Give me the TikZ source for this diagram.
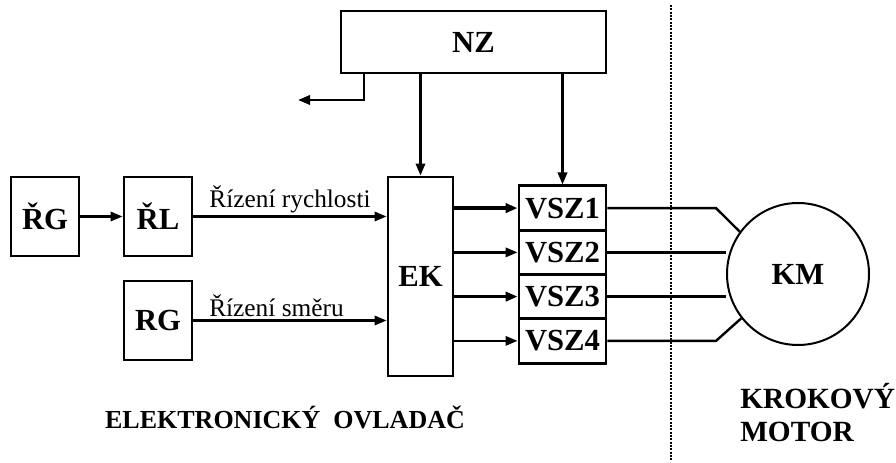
\documentclass[tikz,border=0pt]{standalone}
\usepackage{fontspec}
\setmainfont{Liberation Serif}
\usetikzlibrary{arrows.meta}

\begin{document}
\begin{tikzpicture}[x=0.75pt,y=-0.75pt,>={Triangle[length=9pt,width=7pt]},
  blok/.style={draw,line width=2.2pt,inner sep=0pt,font=\fontsize{23}{27}\selectfont\bfseries},
  spoj/.style={line width=1.8pt},
  silny/.style={line width=2.8pt},
  popis/.style={font=\fontsize{19}{23}\selectfont,inner sep=2pt}]
\useasboundingbox (0,0) rectangle (896,463);
\node[blok,minimum width=198.75pt,minimum height=46.5pt] (NZ) at (473.5,42) {NZ};
\node[blok,minimum width=51pt,minimum height=59.25pt] (RG1) at (45,216.5) {ŘG};
\node[blok,minimum width=51pt,minimum height=59.25pt] (RL) at (158,216.5) {ŘL};
\node[blok,minimum width=51pt,minimum height=59.25pt] (RG2) at (158,320.5) {RG};
\node[blok,minimum width=48.75pt,minimum height=149.25pt] (EK) at (420.5,276.5) {EK};
\node[blok,minimum width=65.25pt,minimum height=33.2pt] (V1) at (562.5,208.1) {VSZ1};
\node[blok,minimum width=65.25pt,minimum height=33.2pt] (V2) at (562.5,252.4) {VSZ2};
\node[blok,minimum width=65.25pt,minimum height=33.2pt] (V3) at (562.5,296.6) {VSZ3};
\node[blok,minimum width=65.25pt,minimum height=33.2pt] (V4) at (562.5,340.9) {VSZ4};
\node[blok,circle,line width=1.5pt,minimum size=106.5pt] (KM) at (798,274) {KM};
\node[font=\fontsize{19.5}{24}\selectfont\bfseries] (EO) at (285,417) {ELEKTRONICKÝ\ \ OVLADAČ};
\node[font=\fontsize{22}{24.75}\selectfont\bfseries,align=left,anchor=west,inner sep=0pt] (KRM) at (740,413) {KROKOVÝ\\MOTOR};
\coordinate (ohyb) at (364,100);
\coordinate (odb) at (298,100);
\coordinate (lom) at (716,0);
\draw[spoj,->] (RG1) -- (RL);
\draw[spoj,->] (RL.east) -- node[popis,above] {Řízení rychlosti} (RL.east -| EK.west);
\draw[spoj,->] (RG2.east) -- node[popis,above,pos=0.43] {Řízení směru} (RG2.east -| EK.west);
\draw[spoj,->] (NZ.south -| EK.north) -- (EK.north);
\draw[spoj,->] (NZ.south -| V1.north) -- (V1.north);
\draw[spoj,->] (NZ.south -| ohyb) -- (ohyb) -- (odb);
\draw[silny,->] (EK.east |- V1) -- (V1.west);
\draw[spoj,->] (EK.east |- V2) -- (V2.west);
\draw[silny,->] (EK.east |- V3) -- (V3.west);
\draw[spoj,->] (EK.east |- V4) -- (V4.west);
\draw[spoj] (V1.east) -- (V1.east -| lom) -- (KM.144);
\draw[silny] (V2.east) -- (V2.east -| KM.west);
\draw[spoj] (V3.east) -- (V3.east -| KM.west);
\draw[spoj] (V4.east) -- (V4.east -| lom) -- (KM.218);
\draw[line width=1.4pt,dash pattern=on 1.5pt off 1pt] (671,5) -- (671,460);
\end{tikzpicture}
\end{document}
